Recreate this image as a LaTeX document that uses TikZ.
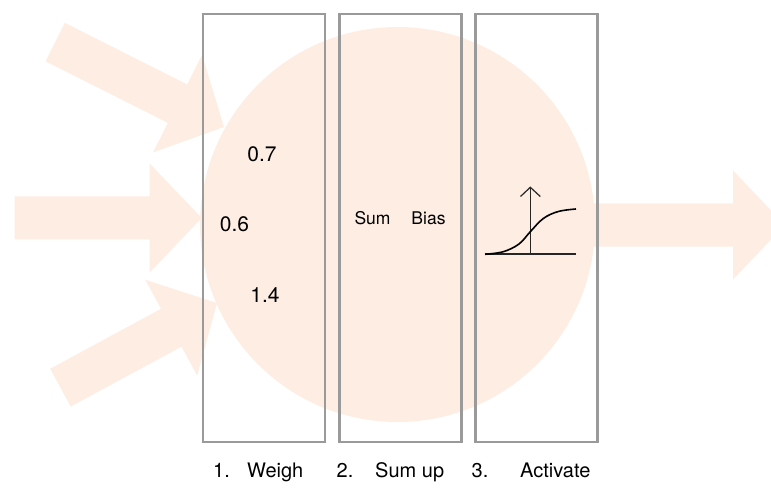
\documentclass[tikz,border=0pt]{standalone}
\usepackage{fontspec}
\setmainfont{TeX Gyre Heros}
\definecolor{peach}{HTML}{FDEDE3}
\definecolor{boxgray}{HTML}{9A9A9A}
\newcommand\myarrow[4]{% name, tip, angle, length
  \begin{scope}[shift={#2}, rotate=#3]
    \fill[peach] (0,0) -- (-52,54.5) -- (-52,21.5) -- (-#4,21.5) -- (-#4,-21.5) -- (-52,-21.5) -- (-52,-54.5) -- cycle;
    \coordinate (#1) at (0,0);
  \end{scope}}
\begin{document}
\begin{tikzpicture}[x=1pt,y=-1pt,
  stage/.style={draw=boxgray, line width=2.2pt, minimum width=122pt, minimum height=428pt, inner sep=0pt, anchor=north west},
  wt/.style={font=\fontsize{21}{24}\selectfont, inner sep=0pt},
  sm/.style={font=\fontsize{17.5}{20}\selectfont, inner sep=0pt},
  lab/.style={font=\fontsize{20}{23}\selectfont, inner sep=0pt, anchor=base west}]
\useasboundingbox (0,0) rectangle (771,489);
\clip (0,0) rectangle (771,489);
% neuron body
\node[circle, fill=peach, minimum size=395pt, inner sep=0pt] (neuron) at (397.5,224.5) {};
% input and output arrows
\myarrow{in1}{(224,127)}{-26.7}{189}
\myarrow{in2}{(201.7,218)}{0}{187}
\myarrow{in3}{(217,303)}{28.4}{178}
\myarrow{out}{(785,225)}{0}{195}
% stage boxes
\node[stage] (weigh) at (202,13) {};
\node[stage] (sumup) at (338.3,13) {};
\node[stage] (activate) at (474.3,13) {};
% weights
\node[wt] (w1) at (262,154) {0.7};
\node[wt] (w2) at (234.5,224) {0.6};
\node[wt] (w3) at (265,295.5) {1.4};
% sum and bias
\node[sm] (sum) at (372.5,218) {Sum};
\node[sm] (bias) at (428.5,218) {Bias};
% activation function plot
\coordinate (xa0) at (485,254);
\coordinate (xa1) at (576,254);
\coordinate (ya0) at (530.3,254);
\coordinate (ya1) at (530.3,187.3);
\draw[line width=1.2pt, black!85] (xa0) -- (xa1);
\draw[line width=1.2pt, black!85] (ya0) -- (ya1);
\draw[line width=1.2pt, black!85] (520.5,196.5) -- (ya1) -- (540.3,196.5);
\draw[line width=1.6pt, black] plot[smooth, tension=0.6] coordinates {(485,254.3) (503.3,251.7) (519,244) (530.3,231.7) (543.3,218.5) (558.3,211.5) (576,209)};
% labels
\node[lab] (n1) at (213,477) {1.};
\node[lab] (l1) at (247,477) {Weigh};
\node[lab] (n2) at (336.5,477) {2.};
\node[lab] (l2) at (375,477) {Sum up};
\node[lab] (n3) at (471.5,477) {3.};
\node[lab] (l3) at (520,477) {Activate};
\end{tikzpicture}
\end{document}
